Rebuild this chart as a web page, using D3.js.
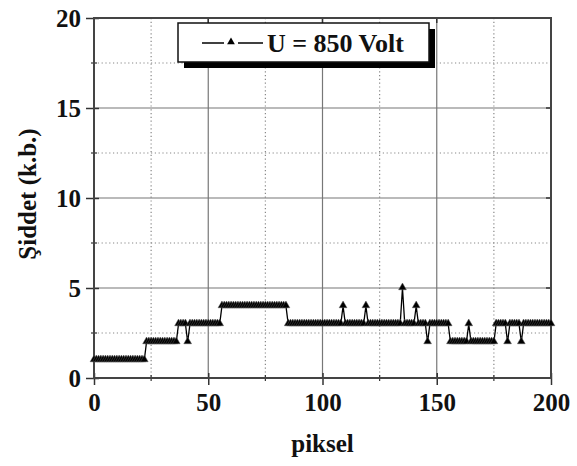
<!DOCTYPE html>
<html>
<head>
<meta charset="utf-8">
<script src="https://cdn.jsdelivr.net/npm/d3@7"></script>
<style>
body { margin: 0; background: #fff; font-family: "Liberation Serif"; font-weight: bold; }
</style>
</head>
<body>
<svg id="chart" width="577" height="466" font-family="Liberation Serif" font-weight="bold"></svg>
<script>
var xTicks = [0, 50, 100, 150, 200],
    xMinor = [25, 75, 125, 175],
    yTicks = [0, 5, 10, 15, 20],
    yMinor = [2.5, 7.5, 12.5, 17.5];

var seriesLabel = "U = 850 Volt";

/* one intensity value per piksel, 0..200 */
var siddet = [
  1,1,1,1,1,1,1,1,1,1,
  1,1,1,1,1,1,1,1,1,1,
  1,1,1,2,2,2,2,2,2,2,
  2,2,2,2,2,2,2,3,3,3,
  3,2,3,3,3,3,3,3,3,3,
  3,3,3,3,3,3,4,4,4,4,
  4,4,4,4,4,4,4,4,4,4,
  4,4,4,4,4,4,4,4,4,4,
  4,4,4,4,4,3,3,3,3,3,
  3,3,3,3,3,3,3,3,3,3,
  3,3,3,3,3,3,3,3,3,4,
  3,3,3,3,3,3,3,3,3,4,
  3,3,3,3,3,3,3,3,3,3,
  3,3,3,3,3,5,3,3,3,3,
  3,4,3,3,3,3,2,3,3,3,
  3,3,3,3,3,3,2,2,2,2,
  2,2,2,2,3,2,2,2,2,2,
  2,2,2,2,2,2,3,3,3,3,
  3,2,3,3,3,3,3,2,3,3,
  3,3,3,3,3,3,3,3,3,3,
  3
];

var FONT = "Liberation Serif",
    FS = 25;

var geom = {
  margin: {left: 94, top: 18, right: 26, bottom: 88},
  width: 457,
  height: 360
};

var margin = geom.margin,
    width = geom.width,
    height = geom.height;

var x = d3.scaleLinear().domain([0, 200]).range([0, width]),
    y = d3.scaleLinear().domain([0, 20]).range([height, 0]);

var svg = d3.select("#chart");

function label(sel) {
  return sel.attr("font-family", FONT)
    .attr("font-weight", "bold")
    .attr("font-size", FS)
    .attr("fill", "#111");
}

svg.append("text")
    .attr("x", margin.left + width / 2)
    .attr("y", 452)
    .attr("text-anchor", "middle")
    .call(label)
    .text("piksel");

svg.append("text")
    .attr("transform", "translate(36," + (margin.top + 176) + ") rotate(-90)")
    .attr("text-anchor", "middle")
    .call(label)
    .text("Şiddet (k.b.)");

var g = svg.append("g")
    .attr("transform", "translate(" + margin.left + "," + margin.top + ")");

/* grid: solid at major, dotted at minor */
g.selectAll(".vgrid").data(xTicks.slice(1, -1)).enter().append("line")
    .attr("x1", x).attr("x2", x).attr("y1", 0).attr("y2", height)
    .attr("stroke", "#777").attr("stroke-width", 1.2);
g.selectAll(".hgrid").data(yTicks.slice(1, -1)).enter().append("line")
    .attr("y1", y).attr("y2", y).attr("x1", 0).attr("x2", width)
    .attr("stroke", "#777").attr("stroke-width", 1.2);
g.selectAll(".vminor").data(xMinor).enter().append("line")
    .attr("x1", x).attr("x2", x).attr("y1", 0).attr("y2", height)
    .attr("stroke", "#888").attr("stroke-width", 1.2)
    .attr("stroke-dasharray", "1.2,2.6");
g.selectAll(".hminor").data(yMinor).enter().append("line")
    .attr("y1", y).attr("y2", y).attr("x1", 0).attr("x2", width)
    .attr("stroke", "#888").attr("stroke-width", 1.2)
    .attr("stroke-dasharray", "1.2,2.6");

/* axes */
var xAxis = d3.axisBottom(x).tickValues(xTicks).tickSize(7).tickPadding(7),
    yAxis = d3.axisLeft(y).tickValues(yTicks).tickSize(8).tickPadding(5);

var gX = g.append("g")
    .attr("transform", "translate(0," + height + ")")
    .call(xAxis);
var gY = g.append("g").call(yAxis);

[gX, gY].forEach(function(a) {
  a.attr("font-family", FONT).attr("font-size", FS).attr("font-weight", "bold");
  a.select(".domain").remove();
  a.selectAll(".tick line").attr("stroke", "#333").attr("stroke-width", 1.5);
  a.selectAll(".tick text").call(label);
});
gX.selectAll(".tick line").attr("y1", -5);
gY.selectAll(".tick line").attr("x1", 5);
gX.selectAll(".tick text").attr("dy", "0.75em");

/* minor ticks and inner ticks on the frame */
g.selectAll(".xmt").data(xMinor).enter().append("line")
    .attr("x1", x).attr("x2", x).attr("y1", height - 3).attr("y2", height + 3)
    .attr("stroke", "#333").attr("stroke-width", 1.2);
g.selectAll(".ymt").data(yMinor).enter().append("line")
    .attr("y1", y).attr("y2", y).attr("x1", -3).attr("x2", 3)
    .attr("stroke", "#333").attr("stroke-width", 1.2);
g.selectAll(".xtt").data(xTicks).enter().append("line")
    .attr("x1", x).attr("x2", x).attr("y1", 0).attr("y2", 5)
    .attr("stroke", "#333").attr("stroke-width", 1.5);
g.selectAll(".ytt").data(yTicks).enter().append("line")
    .attr("y1", y).attr("y2", y).attr("x1", width - 5).attr("x2", width)
    .attr("stroke", "#333").attr("stroke-width", 1.5);

/* frame */
g.append("rect")
    .attr("width", width).attr("height", height)
    .attr("fill", "none").attr("stroke", "#444").attr("stroke-width", 2);

/* series */
var line = d3.line()
    .x(function(d, i) { return x(i); })
    .y(function(d) { return y(d); });

g.append("path")
    .datum(siddet)
    .attr("fill", "none")
    .attr("stroke", "#000")
    .attr("stroke-width", 1.3)
    .attr("d", line);

var tri = d3.symbol().type(d3.symbolTriangle).size(26);

g.selectAll(".pt").data(siddet).enter().append("path")
    .attr("transform", function(d, i) { return "translate(" + x(i) + "," + (y(d) - 0.5) + ")"; })
    .attr("d", tri)
    .attr("fill", "#000")
    .attr("stroke", "#555")
    .attr("stroke-width", 0.5);

/* legend */
var lg = svg.append("g").attr("transform", "translate(178,23)");
lg.append("rect")
    .attr("x", 6).attr("y", 6).attr("width", 251).attr("height", 39)
    .attr("fill", "#000");
lg.append("rect")
    .attr("width", 251).attr("height", 39)
    .attr("fill", "#fff").attr("stroke", "#111").attr("stroke-width", 1.5);
lg.append("line").attr("x1", 24).attr("x2", 46).attr("y1", 20).attr("y2", 20)
    .attr("stroke", "#000").attr("stroke-width", 1.5);
lg.append("line").attr("x1", 60).attr("x2", 85).attr("y1", 20).attr("y2", 20)
    .attr("stroke", "#000").attr("stroke-width", 1.5);
lg.append("path").attr("transform", "translate(53,19)").attr("d", tri).attr("fill", "#000");
lg.append("text")
    .attr("x", 89).attr("y", 29)
    .call(label)
    .attr("font-size", FS + 1)
    .text(seriesLabel);

/* re-apply the serif face once it is loaded, in case the first layout fell back */
if (document.fonts && document.fonts.load) {
  document.fonts.load("bold 25px 'Liberation Serif'").then(function() {
    svg.selectAll("text").attr("font-family", FONT);
  });
}
</script>
</body>
</html>
